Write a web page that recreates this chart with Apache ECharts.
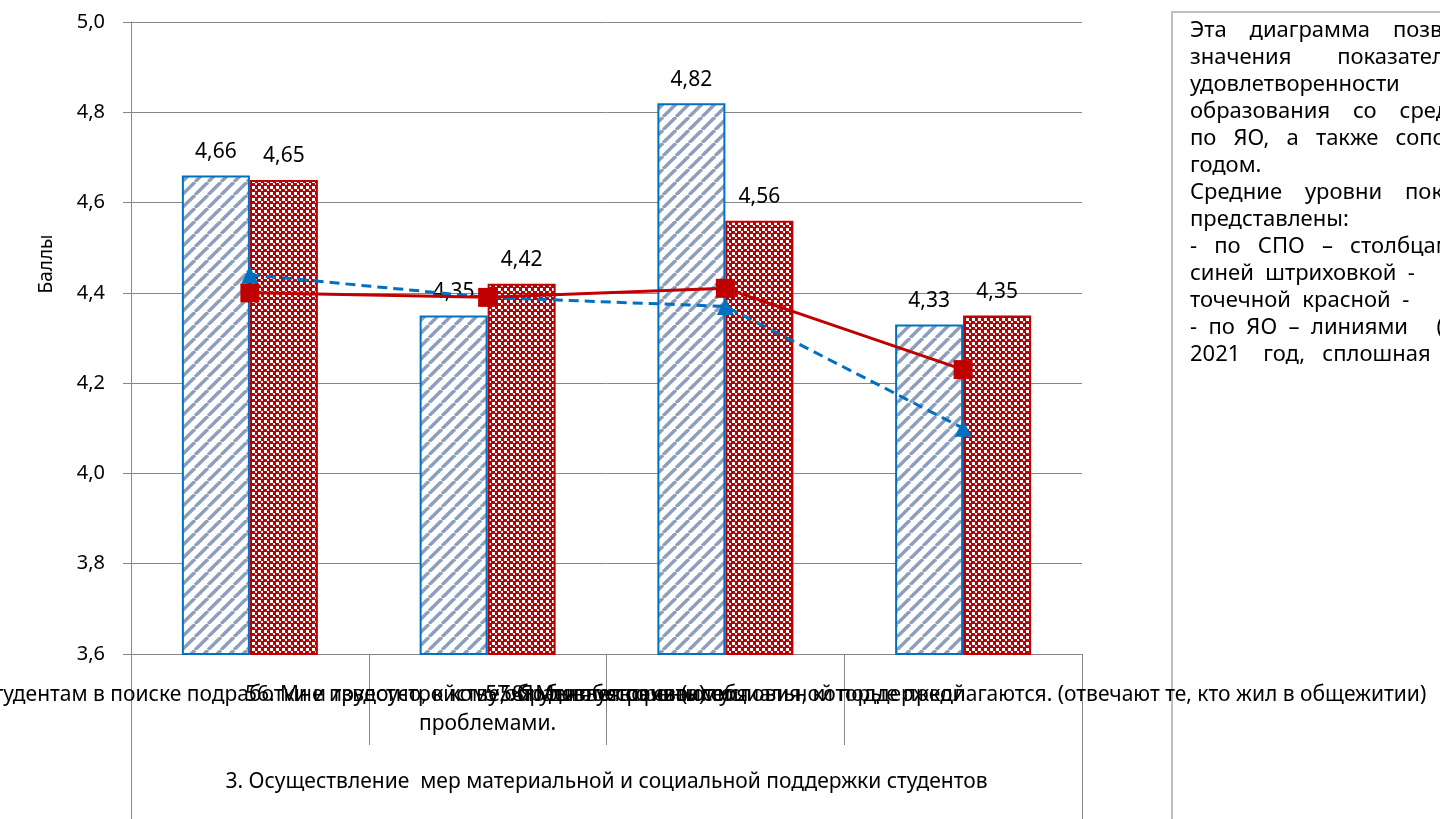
<!DOCTYPE html>
<html><head><meta charset="utf-8">
<script src="https://cdn.jsdelivr.net/npm/echarts@6/dist/echarts.min.js"></script>
<style>html,body{margin:0;padding:0;background:#fff}#c{width:1440px;height:819px}</style>
</head><body><div id="c"></div>
<script>
// ---- data ----
const categories = [
  '55. Колледж помогает студентам в поиске подработки и трудоустройстве, чтобы обеспечить себя',
  '56. Мне известно, к кому обратиться со своими\nпроблемами.',
  '57. Я удовлетворен(а) социальной поддержкой',
  '58. Меня устраивают условия, которые предлагаются. (отвечают те, кто жил в общежитии)'
];
const groupLabel = '3. Осуществление  мер материальной и социальной поддержки студентов';
const spo2021 = [4.66, 4.35, 4.82, 4.33];
const spo2022 = [4.65, 4.42, 4.56, 4.35];
const yo2021 = [4.44, 4.39, 4.37, 4.10];
const yo2022 = [4.40, 4.39, 4.41, 4.23];
const yAxisName = 'Баллы';
const yMin = 3.6, yMax = 5.0, yStep = 0.2;
// justified note text (extra spaces emulate the justified paragraph)
const noteLines = [
  'Эта    диаграмма    позволяет сравнить',
  'значения        показателей  степени',
  'удовлетворенности         качеством',
  'образования    со    средними значениями',
  'по   ЯО,   а   также   сопоставить',
  'годом.',
  'Средние    уровни    показателей',
  'представлены:',
  '-   по   СПО   –   столбцами (2021 год',
  'синей  штриховкой  -          2022 год',
  'точечной  красной  -          заливкой',
  '-  по  ЯО  –  линиями     (пунктирная',
  '2021    год,   сплошная        – 2022 год)'
];

// ---- styles ----
const FONT = '"Noto Sans", sans-serif';
const GRID = {left: 131, right: 358, top: 22, bottom: 165};
const W = 1440, H = 819;
const gridRight = W - GRID.right, gridBottom = H - GRID.bottom;

function stripePattern() {
  const s = 13, c = document.createElement('canvas');
  c.width = s; c.height = s;
  const g = c.getContext('2d');
  g.fillStyle = '#ffffff'; g.fillRect(0, 0, s, s);
  g.strokeStyle = '#8C9FBC'; g.lineWidth = 3.4;
  for (const o of [-s, 0, s]) { g.beginPath(); g.moveTo(o, s); g.lineTo(o + s, 0); g.stroke(); }
  return c;
}
function checkerPattern() {
  const s = 6, c = document.createElement('canvas');
  c.width = s; c.height = s;
  const g = c.getContext('2d');
  g.fillStyle = '#C00000'; g.fillRect(0, 0, s, s);
  g.fillStyle = '#ffffff';
  g.fillRect(0, 0, 3, 3); g.fillRect(3, 3, 2, 2);
  return c;
}
const fmt2 = p => p.value.toFixed(2).replace('.', ',');

const chart = echarts.init(document.getElementById('c'), null, {renderer: 'canvas'});
chart.setOption({
  backgroundColor: '#fff',
  animation: false,
  grid: {left: GRID.left, right: GRID.right, top: GRID.top, bottom: GRID.bottom, containLabel: false, outerBoundsMode: 'none'},
  xAxis: {
    type: 'category', data: categories,
    axisLine: {lineStyle: {color: '#868686', width: 1}},
    axisTick: {show: true, interval: 0, length: 91, lineStyle: {color: '#868686'}},
    axisLabel: {interval: 0, color: '#000', fontSize: 21, fontFamily: FONT, margin: 27, lineHeight: 29, hideOverlap: false}
  },
  yAxis: {
    type: 'value', min: yMin, max: yMax, interval: yStep,
    axisLine: {show: true, lineStyle: {color: '#868686'}},
    axisTick: {show: true, length: 8, lineStyle: {color: '#868686'}},
    splitLine: {lineStyle: {color: '#868686', width: 1}},
    axisLabel: {formatter: v => v.toFixed(1).replace('.', ','), color: '#000', fontSize: 20, fontFamily: FONT, margin: 26}
  },
  series: [
    {name: 'СПО 2021', type: 'bar', data: spo2021, barWidth: 68, barGap: '0%',
     itemStyle: {color: {image: stripePattern(), repeat: 'repeat'}, borderColor: '#0070C0', borderWidth: 2},
     label: {show: true, position: 'top', distance: 13, formatter: fmt2, color: '#000', fontSize: 21, fontFamily: FONT}},
    {name: 'СПО 2022', type: 'bar', data: spo2022, barWidth: 68,
     itemStyle: {color: {image: checkerPattern(), repeat: 'repeat'}, borderColor: '#C00000', borderWidth: 2},
     label: {show: true, position: 'top', distance: 13, formatter: fmt2, color: '#000', fontSize: 21, fontFamily: FONT}},
    {name: 'ЯО 2021', type: 'line', data: yo2021, symbol: 'triangle', symbolSize: 17,
     itemStyle: {color: '#0070C0'}, lineStyle: {color: '#0070C0', width: 3, type: [10, 6]}, z: 5},
    {name: 'ЯО 2022', type: 'line', data: yo2022, symbol: 'rect', symbolSize: 19,
     itemStyle: {color: '#C00000'}, lineStyle: {color: '#C00000', width: 3}, z: 6}
  ],
  graphic: [
    {type: 'line', shape: {x1: GRID.left + 0.5, y1: gridBottom, x2: GRID.left + 0.5, y2: H}, style: {stroke: '#868686', lineWidth: 1}},
    {type: 'line', shape: {x1: gridRight + 0.5, y1: gridBottom, x2: gridRight + 0.5, y2: H}, style: {stroke: '#868686', lineWidth: 1}},
    {type: 'text', x: (GRID.left + gridRight) / 2, y: 782,
     style: {text: groupLabel, font: '21px ' + FONT, fill: '#000', textAlign: 'center', textVerticalAlign: 'middle'}},
    {type: 'text', x: 47, y: 264, rotation: Math.PI / 2,
     style: {text: yAxisName, font: '19px ' + FONT, fill: '#000', textAlign: 'center', textVerticalAlign: 'middle'}},
    {type: 'rect', shape: {x: 1172, y: 12, width: 320, height: 900},
     style: {fill: '#fff', stroke: '#BFBFBF', lineWidth: 2}},
    {type: 'text', x: 1190, y: 17,
     style: {text: noteLines.join('\n'), font: '22px ' + FONT, fill: '#000', lineHeight: 27, textAlign: 'left', textVerticalAlign: 'top'}}
  ]
});
</script></body></html>
